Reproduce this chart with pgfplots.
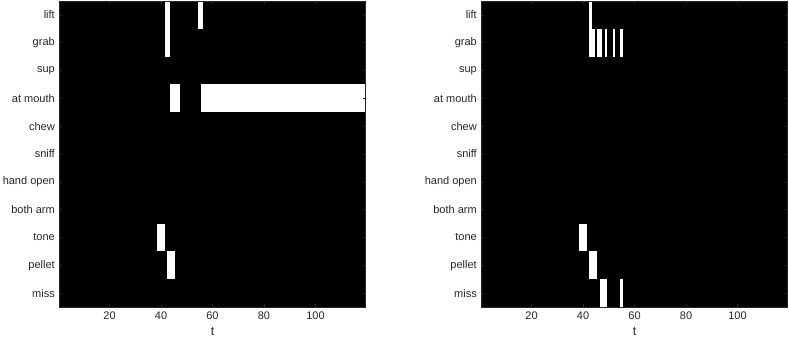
\documentclass[border=0pt]{standalone}
\usepackage{fontspec}
\setmainfont{Liberation Sans}
\usepackage{pgfplots}
\pgfplotsset{compat=1.18}
\definecolor{axgray}{RGB}{38,38,38}
\pgfplotsset{
  beh/.style={
    scale only axis, width=306.4pt, height=306pt,
    xmin=0.5, xmax=119.5, ymin=0.5, ymax=11.5, y dir=reverse,
    axis background/.style={fill=black},
    axis on top,
    xtick={20,40,60,80,100},
    ytick={1,2,3,4,5,6,7,8,9,10,11},
    yticklabels={lift,grab,sup,at mouth,chew,sniff,hand open,both arm,tone,pellet,miss},
    tick align=inside, tick pos=both,
    major tick length=3pt,
    every tick/.style={axgray, line width=0.5pt},
    axis line style={axgray, line width=0.6pt},
    tick label style={font=\fontsize{11}{13}\selectfont, text=axgray},
    /pgf/number format/assume math mode=true,
    xlabel={t},
    xlabel style={font=\fontsize{12.5}{14}\selectfont, text=axgray, yshift=-1pt},
    yticklabel style={xshift=-1pt},
    xticklabel style={yshift=-1pt},
  },
  cell/.style={fill=white, draw=none, forget plot},
}
\begin{document}
\begin{tikzpicture}
\path[use as bounding box] (-59.3pt,-35pt) rectangle (729.7pt,307pt);
\begin{axis}[beh, at={(0pt,0pt)}, anchor=south west]
% lift + grab, t = 42-43
\addplot[cell] coordinates {(41.5,0.5) (43.5,0.5) (43.5,2.5) (41.5,2.5)} --cycle;
% lift, t = 55-56
\addplot[cell] coordinates {(54.5,0.5) (56.5,0.5) (56.5,1.5) (54.5,1.5)} --cycle;
% at mouth, t = 44-47
\addplot[cell] coordinates {(43.5,3.5) (47.5,3.5) (47.5,4.5) (43.5,4.5)} --cycle;
% at mouth, t = 56-119
\addplot[cell] coordinates {(55.5,3.5) (119.5,3.5) (119.5,4.5) (55.5,4.5)} --cycle;
% tone, t = 39-41
\addplot[cell] coordinates {(38.5,8.5) (41.5,8.5) (41.5,9.5) (38.5,9.5)} --cycle;
% pellet, t = 43-45
\addplot[cell] coordinates {(42.5,9.5) (45.5,9.5) (45.5,10.5) (42.5,10.5)} --cycle;
\end{axis}
\begin{axis}[beh, at={(422pt,0pt)}, anchor=south west]
% lift + grab, t = 43
\addplot[cell] coordinates {(42.5,0.5) (43.5,0.5) (43.5,2.5) (42.5,2.5)} --cycle;
% grab, t = 44, 46-47, 49, 52, 55
\addplot[cell] coordinates {(43.5,1.5) (44.5,1.5) (44.5,2.5) (43.5,2.5)} --cycle;
\addplot[cell] coordinates {(45.5,1.5) (47.5,1.5) (47.5,2.5) (45.5,2.5)} --cycle;
\addplot[cell] coordinates {(48.5,1.5) (49.5,1.5) (49.5,2.5) (48.5,2.5)} --cycle;
\addplot[cell] coordinates {(51.5,1.5) (52.5,1.5) (52.5,2.5) (51.5,2.5)} --cycle;
\addplot[cell] coordinates {(54.5,1.5) (55.5,1.5) (55.5,2.5) (54.5,2.5)} --cycle;
% tone, t = 39-41
\addplot[cell] coordinates {(38.5,8.5) (41.5,8.5) (41.5,9.5) (38.5,9.5)} --cycle;
% pellet, t = 43-45
\addplot[cell] coordinates {(42.5,9.5) (45.5,9.5) (45.5,10.5) (42.5,10.5)} --cycle;
% miss, t = 47-49, 55
\addplot[cell] coordinates {(46.5,10.5) (49.5,10.5) (49.5,11.5) (46.5,11.5)} --cycle;
\addplot[cell] coordinates {(54.5,10.5) (55.5,10.5) (55.5,11.5) (54.5,11.5)} --cycle;
\end{axis}
\end{tikzpicture}
\end{document}
